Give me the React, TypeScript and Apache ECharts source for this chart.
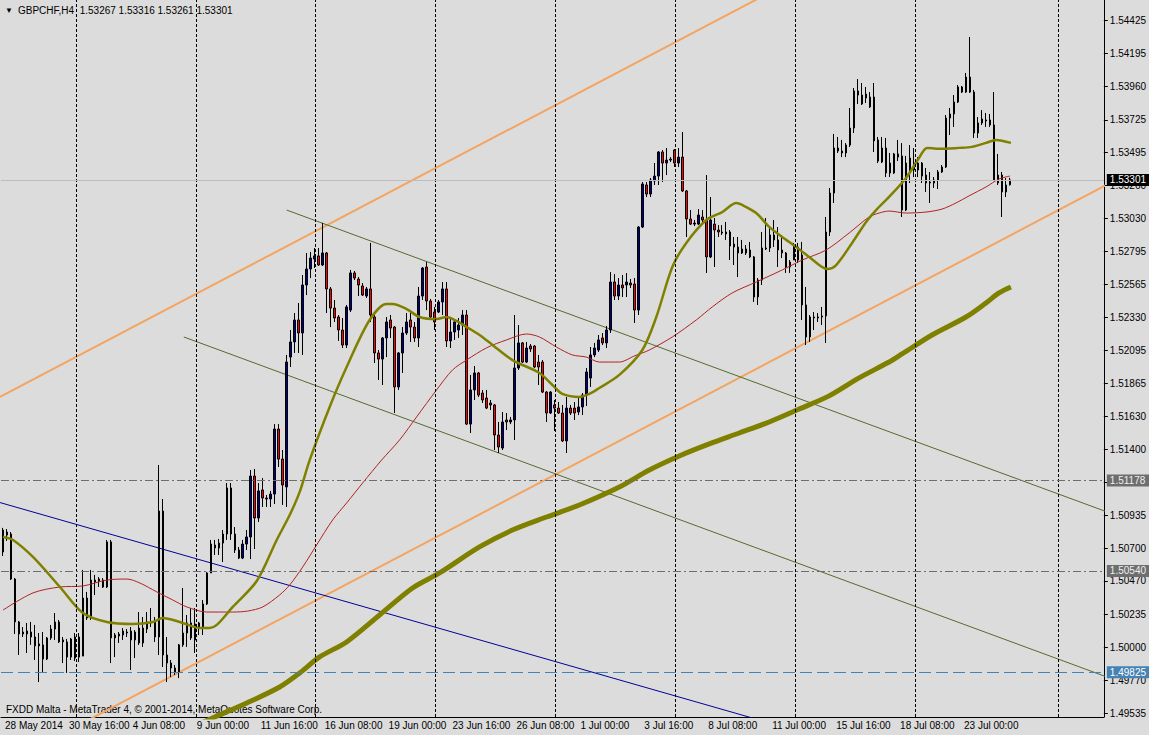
import React, { useEffect, useRef } from "react";
import * as echarts from "echarts";

const FONT = '"Liberation Sans", Arial, sans-serif';
const SYMBOL = "GBPCHF,H4";
const MONTHS = ["Jan", "Feb", "Mar", "Apr", "May", "Jun", "Jul", "Aug", "Sep", "Oct", "Nov", "Dec"];
const SLOT_COUNT = 276;
const LABEL_EVERY = 16;
const LAST_LABEL_INDEX = 240;
const Y_MIN = 1.49509;
const Y_MAX = 1.54571;

function pad(n: number) {
  return n < 10 ? "0" + n : "" + n;
}
function buildSlots(n: number): string[] {
  const out: string[] = [];
  let t = Date.UTC(2014, 4, 28, 0, 0);
  while (out.length < n) {
    const d = new Date(t);
    const wd = d.getUTCDay();
    if (wd !== 0 && wd !== 6) {
      out.push(`${d.getUTCDate()} ${MONTHS[d.getUTCMonth()]} ${pad(d.getUTCHours())}:00`);
    }
    t += 4 * 3600 * 1000;
  }
  return out;
}
const categories = buildSlots(SLOT_COUNT);

// [open, high, low, close]
const candles: number[][] = [
  [1.50674, 1.50844, 1.50646, 1.50829], [1.50815, 1.50836, 1.50752, 1.50794], [1.50801, 1.50815, 1.50476, 1.50483],
  [1.50483, 1.50490, 1.50095, 1.50180], [1.50180, 1.50187, 1.49947, 1.50095], [1.50095, 1.50144, 1.50074, 1.50109],
  [1.50095, 1.50173, 1.49961, 1.50116], [1.50109, 1.50180, 1.50018, 1.50074], [1.50074, 1.50159, 1.49911, 1.50011],
  [1.50011, 1.50102, 1.49756, 1.50025], [1.50018, 1.50109, 1.49820, 1.49918], [1.49918, 1.50074, 1.49911, 1.50067],
  [1.50067, 1.50159, 1.50053, 1.50130], [1.50130, 1.50243, 1.50053, 1.50180], [1.50180, 1.50194, 1.50032, 1.50039],
  [1.50039, 1.50074, 1.49890, 1.50053], [1.50039, 1.50060, 1.49820, 1.49932], [1.49932, 1.50067, 1.49911, 1.50060],
  [1.50074, 1.50102, 1.49904, 1.49925], [1.49932, 1.50102, 1.49897, 1.50074], [1.49939, 1.50547, 1.49939, 1.50349],
  [1.50349, 1.50392, 1.50194, 1.50208], [1.50208, 1.50547, 1.50194, 1.50476], [1.50476, 1.50512, 1.50370, 1.50462],
  [1.50469, 1.50497, 1.50427, 1.50483], [1.50476, 1.50490, 1.50420, 1.50427], [1.50427, 1.50759, 1.50420, 1.50745],
  [1.50745, 1.50759, 1.49890, 1.50067], [1.50088, 1.50102, 1.49932, 1.50067], [1.50081, 1.50109, 1.50032, 1.50095],
  [1.50088, 1.50137, 1.50053, 1.50116], [1.50109, 1.50130, 1.50074, 1.50102], [1.50116, 1.50144, 1.49841, 1.50053],
  [1.50109, 1.50123, 1.49925, 1.50053], [1.50032, 1.50250, 1.50018, 1.50137], [1.50032, 1.50215, 1.50004, 1.50137],
  [1.50130, 1.50250, 1.50102, 1.50180], [1.50180, 1.50278, 1.50144, 1.50173], [1.50180, 1.50215, 1.50039, 1.50074],
  [1.50074, 1.51288, 1.49947, 1.50963], [1.50963, 1.51048, 1.49862, 1.49947], [1.49947, 1.50074, 1.49756, 1.49890],
  [1.49890, 1.49911, 1.49791, 1.49855], [1.49855, 1.49876, 1.49806, 1.49827], [1.49827, 1.50025, 1.49784, 1.50018],
  [1.50018, 1.50420, 1.50004, 1.50102], [1.50102, 1.50229, 1.50004, 1.50173], [1.50173, 1.50278, 1.50053, 1.50067],
  [1.50053, 1.50278, 1.49961, 1.50166], [1.50144, 1.50180, 1.50088, 1.50173], [1.50144, 1.50335, 1.50088, 1.50307],
  [1.50307, 1.50533, 1.50300, 1.50526], [1.50526, 1.50759, 1.50526, 1.50730], [1.50723, 1.50759, 1.50653, 1.50702],
  [1.50702, 1.50766, 1.50653, 1.50737], [1.50737, 1.50829, 1.50603, 1.50801], [1.50801, 1.51161, 1.50759, 1.51126],
  [1.51126, 1.51161, 1.50759, 1.50801], [1.50801, 1.50850, 1.50667, 1.50688], [1.50688, 1.50709, 1.50624, 1.50631],
  [1.50631, 1.50759, 1.50624, 1.50730], [1.50730, 1.50829, 1.50688, 1.50780], [1.50780, 1.51253, 1.50624, 1.51210],
  [1.51210, 1.51260, 1.50695, 1.50914], [1.50914, 1.51161, 1.50886, 1.51105], [1.51112, 1.51196, 1.50992, 1.51055],
  [1.51048, 1.51076, 1.50992, 1.51055], [1.51048, 1.51105, 1.50992, 1.51083], [1.51083, 1.51577, 1.51013, 1.51542],
  [1.51542, 1.51577, 1.51274, 1.51330], [1.51330, 1.51394, 1.51006, 1.51147], [1.51133, 1.52065, 1.50992, 1.52015],
  [1.52050, 1.52241, 1.51980, 1.52157], [1.52157, 1.52361, 1.52079, 1.52312], [1.52312, 1.52432, 1.52079, 1.52220],
  [1.52220, 1.52629, 1.52065, 1.52559], [1.52559, 1.52785, 1.52488, 1.52672], [1.52672, 1.52792, 1.52608, 1.52749],
  [1.52742, 1.52820, 1.52679, 1.52764], [1.52764, 1.52820, 1.52693, 1.52700], [1.52700, 1.52997, 1.52693, 1.52785],
  [1.52785, 1.52792, 1.52361, 1.52531], [1.52531, 1.52545, 1.52262, 1.52396], [1.52396, 1.52453, 1.52298, 1.52326],
  [1.52333, 1.52347, 1.52164, 1.52241], [1.52241, 1.52326, 1.52114, 1.52135], [1.52135, 1.52418, 1.52114, 1.52404],
  [1.52382, 1.52665, 1.52368, 1.52644], [1.52644, 1.52658, 1.52594, 1.52608], [1.52601, 1.52615, 1.52481, 1.52559],
  [1.52552, 1.52573, 1.52481, 1.52488], [1.52481, 1.52545, 1.52467, 1.52531], [1.52531, 1.52856, 1.52298, 1.52347],
  [1.52333, 1.52347, 1.52008, 1.52079], [1.52079, 1.52100, 1.51888, 1.52036], [1.52036, 1.52192, 1.51853, 1.52185],
  [1.52185, 1.52333, 1.52050, 1.52298], [1.52312, 1.52347, 1.52185, 1.52255], [1.52262, 1.52269, 1.51655, 1.51839],
  [1.51839, 1.52086, 1.51818, 1.52079], [1.52079, 1.52262, 1.51938, 1.52220], [1.52220, 1.52361, 1.52206, 1.52298],
  [1.52312, 1.52361, 1.52157, 1.52262], [1.52262, 1.52298, 1.52157, 1.52185], [1.52185, 1.52545, 1.52121, 1.52481],
  [1.52481, 1.52686, 1.52453, 1.52679], [1.52686, 1.52721, 1.52382, 1.52446], [1.52446, 1.52460, 1.52312, 1.52333],
  [1.52368, 1.52404, 1.52241, 1.52298], [1.52368, 1.52453, 1.52361, 1.52439], [1.52439, 1.52580, 1.52347, 1.52531],
  [1.52531, 1.52580, 1.52121, 1.52164], [1.52164, 1.52333, 1.52114, 1.52227], [1.52227, 1.52312, 1.52171, 1.52298],
  [1.52241, 1.52326, 1.52185, 1.52276], [1.52276, 1.52382, 1.52206, 1.52347], [1.52347, 1.52382, 1.51570, 1.51577],
  [1.51577, 1.51924, 1.51514, 1.51818], [1.51818, 1.51987, 1.51747, 1.51938], [1.51938, 1.51945, 1.51768, 1.51782],
  [1.51796, 1.51818, 1.51726, 1.51747], [1.51761, 1.51818, 1.51683, 1.51690], [1.51726, 1.51747, 1.51676, 1.51712],
  [1.51712, 1.51719, 1.51394, 1.51500], [1.51500, 1.51592, 1.51373, 1.51415], [1.51408, 1.51662, 1.51394, 1.51592],
  [1.51606, 1.51655, 1.51535, 1.51592], [1.51592, 1.51627, 1.51577, 1.51606], [1.51606, 1.52347, 1.51465, 1.51973],
  [1.51973, 1.52276, 1.51959, 1.52150], [1.52150, 1.52157, 1.52008, 1.52015], [1.52015, 1.52157, 1.52008, 1.52114],
  [1.52128, 1.52142, 1.52086, 1.52107], [1.52128, 1.52135, 1.51973, 1.51980], [1.52015, 1.52065, 1.51853, 1.51980],
  [1.52015, 1.52029, 1.51796, 1.51803], [1.51803, 1.51810, 1.51592, 1.51655], [1.51655, 1.51810, 1.51648, 1.51803],
  [1.51712, 1.51747, 1.51528, 1.51690], [1.51690, 1.51733, 1.51648, 1.51655], [1.51655, 1.51712, 1.51450, 1.51458],
  [1.51458, 1.51768, 1.51373, 1.51690], [1.51690, 1.51712, 1.51641, 1.51655], [1.51690, 1.51733, 1.51606, 1.51655],
  [1.51662, 1.51761, 1.51641, 1.51698], [1.51698, 1.51796, 1.51641, 1.51782], [1.51782, 1.51973, 1.51705, 1.51945],
  [1.51902, 1.52121, 1.51839, 1.52065], [1.52065, 1.52150, 1.52050, 1.52114], [1.52100, 1.52206, 1.52086, 1.52171],
  [1.52185, 1.52220, 1.52135, 1.52150], [1.52150, 1.52269, 1.52114, 1.52241], [1.52241, 1.52650, 1.52220, 1.52580],
  [1.52580, 1.52636, 1.52453, 1.52481], [1.52481, 1.52608, 1.52453, 1.52559], [1.52559, 1.52629, 1.52474, 1.52538],
  [1.52559, 1.52643, 1.52474, 1.52580], [1.52573, 1.52601, 1.52538, 1.52559], [1.52566, 1.52608, 1.52291, 1.52382],
  [1.52382, 1.52975, 1.52347, 1.52968], [1.52968, 1.53286, 1.52961, 1.53272], [1.53265, 1.53286, 1.53180, 1.53201],
  [1.53201, 1.53314, 1.53180, 1.53300], [1.53293, 1.53420, 1.53265, 1.53328], [1.53328, 1.53505, 1.53265, 1.53498],
  [1.53498, 1.53512, 1.53286, 1.53420], [1.53420, 1.53526, 1.53335, 1.53441], [1.53448, 1.53462, 1.53427, 1.53441],
  [1.53512, 1.53519, 1.53392, 1.53420], [1.53420, 1.53526, 1.53392, 1.53462], [1.53462, 1.53639, 1.53216, 1.53223],
  [1.53223, 1.53230, 1.52898, 1.53025], [1.53025, 1.53088, 1.52982, 1.52989], [1.52989, 1.53018, 1.52975, 1.52996],
  [1.52989, 1.53095, 1.52982, 1.53053], [1.53039, 1.53088, 1.52996, 1.53018], [1.53018, 1.53335, 1.52644, 1.52757],
  [1.52757, 1.53180, 1.52749, 1.53018], [1.52989, 1.53032, 1.52686, 1.52947], [1.52947, 1.52982, 1.52898, 1.52933],
  [1.52933, 1.52982, 1.52912, 1.52926], [1.52919, 1.53004, 1.52877, 1.52933], [1.52933, 1.52947, 1.52735, 1.52834],
  [1.52848, 1.52898, 1.52700, 1.52827], [1.52827, 1.52898, 1.52615, 1.52785], [1.52785, 1.52877, 1.52778, 1.52813],
  [1.52813, 1.52841, 1.52771, 1.52785], [1.52806, 1.52863, 1.52749, 1.52757], [1.52757, 1.52764, 1.52439, 1.52474],
  [1.52474, 1.52608, 1.52418, 1.52594], [1.52594, 1.52933, 1.52559, 1.52820], [1.52813, 1.53032, 1.52806, 1.52820],
  [1.52820, 1.52968, 1.52792, 1.52912], [1.52912, 1.53018, 1.52827, 1.52877], [1.52877, 1.52968, 1.52686, 1.52806],
  [1.52806, 1.52912, 1.52749, 1.52785], [1.52785, 1.52792, 1.52644, 1.52686], [1.52686, 1.52735, 1.52644, 1.52721],
  [1.52735, 1.52856, 1.52735, 1.52827], [1.52827, 1.52856, 1.52714, 1.52735], [1.52771, 1.52863, 1.52312, 1.52418],
  [1.52418, 1.52545, 1.52135, 1.52192], [1.52192, 1.52347, 1.52157, 1.52333], [1.52333, 1.52368, 1.52241, 1.52326],
  [1.52333, 1.52361, 1.52298, 1.52326], [1.52333, 1.52404, 1.52276, 1.52340], [1.52340, 1.53039, 1.52150, 1.52933],
  [1.52933, 1.53244, 1.52905, 1.53208], [1.53208, 1.53625, 1.53138, 1.53526], [1.53526, 1.53604, 1.53491, 1.53505],
  [1.53491, 1.53583, 1.53462, 1.53505], [1.53491, 1.53561, 1.53462, 1.53547], [1.53547, 1.53809, 1.53533, 1.53667],
  [1.53667, 1.53950, 1.53632, 1.53929], [1.53929, 1.54013, 1.53837, 1.53900], [1.53900, 1.53985, 1.53830, 1.53837],
  [1.53879, 1.53957, 1.53844, 1.53907], [1.53886, 1.53921, 1.53809, 1.53816], [1.53886, 1.53985, 1.53498, 1.53576],
  [1.53583, 1.53604, 1.53420, 1.53434], [1.53526, 1.53604, 1.53420, 1.53427], [1.53526, 1.53597, 1.53321, 1.53350],
  [1.53420, 1.53491, 1.53321, 1.53350], [1.53350, 1.53491, 1.53343, 1.53484], [1.53484, 1.53583, 1.53434, 1.53462],
  [1.53470, 1.53561, 1.53039, 1.53088], [1.53088, 1.53470, 1.53081, 1.53420], [1.53371, 1.53547, 1.53279, 1.53455],
  [1.53420, 1.53526, 1.53321, 1.53371], [1.53371, 1.53462, 1.53321, 1.53420], [1.53420, 1.53427, 1.53279, 1.53328],
  [1.53335, 1.53385, 1.53216, 1.53279], [1.53286, 1.53357, 1.53138, 1.53279], [1.53279, 1.53321, 1.53244, 1.53300],
  [1.53300, 1.53371, 1.53237, 1.53357], [1.53357, 1.53406, 1.53350, 1.53392], [1.53392, 1.53759, 1.53385, 1.53738],
  [1.53738, 1.53809, 1.53618, 1.53766], [1.53766, 1.53900, 1.53675, 1.53851], [1.53851, 1.53971, 1.53844, 1.53957],
  [1.53957, 1.53964, 1.53915, 1.53921], [1.53921, 1.54056, 1.53915, 1.54027], [1.54027, 1.54310, 1.53915, 1.53921],
  [1.53921, 1.53936, 1.53597, 1.53632], [1.53632, 1.53745, 1.53597, 1.53703], [1.53703, 1.53794, 1.53689, 1.53731],
  [1.53717, 1.53773, 1.53675, 1.53724], [1.53724, 1.53766, 1.53675, 1.53689], [1.53689, 1.53921, 1.53293, 1.53300],
  [1.53279, 1.53484, 1.53265, 1.53335], [1.53335, 1.53357, 1.53039, 1.53216], [1.53216, 1.53314, 1.53180, 1.53265],
  [1.53267, 1.53316, 1.53261, 1.53301],
];

const yTicks = [
  1.54425, 1.54195, 1.5396, 1.53725, 1.53495, 1.5326, 1.5303, 1.52795, 1.52565, 1.5233, 1.52095,
  1.51865, 1.5163, 1.514, 1.51165, 1.50935, 1.507, 1.5047, 1.50235, 1.5, 1.4977, 1.49535,
];

// moving averages: [bar index, price]
const maSlow = [
  [45, 1.4941], [53, 1.49509], [61, 1.49608], [69.25, 1.49721], [74.25, 1.4982], [79.25, 1.49933], [86, 1.50039],
  [94.25, 1.50229], [102.5, 1.5042], [109.25, 1.50526], [119.25, 1.5071], [127.5, 1.50829], [136, 1.50921],
  [144.25, 1.51006], [154.25, 1.51133], [161.75, 1.51253], [169.25, 1.51352], [176.75, 1.51437], [184.25, 1.51514],
  [191.75, 1.51592], [199.25, 1.51683], [206.75, 1.51776], [214.25, 1.51903], [221.75, 1.52015], [225, 1.52072],
  [232.5, 1.52206], [241, 1.52333], [246, 1.52432], [249.25, 1.52503], [252.25, 1.52545],
];
const maFast = [
  [0, 1.5078], [2.5, 1.50759], [7.5, 1.50639], [14.25, 1.50427], [20, 1.50243], [26, 1.5018], [32.5, 1.50166],
  [37.5, 1.5018], [40, 1.50208], [44.25, 1.5018], [49.25, 1.50138], [51.75, 1.50138], [53.5, 1.50159], [57.5, 1.50286],
  [63.5, 1.50469], [68.5, 1.50759], [71.75, 1.50935], [74.25, 1.51098], [76.75, 1.51323], [81.75, 1.51698], [86, 1.5198],
  [91.75, 1.52312], [96, 1.52425], [97.5, 1.52425], [101, 1.52389], [104.25, 1.52333], [108.5, 1.52318], [111, 1.52333],
  [113.5, 1.52305], [116, 1.52263], [119.25, 1.52206], [122.5, 1.52136], [127.5, 1.52029], [134.25, 1.51938],
  [137.5, 1.51853], [140, 1.5179], [144.25, 1.51769], [146.75, 1.5179], [149.25, 1.51832], [154.25, 1.51924],
  [160, 1.521], [163.5, 1.52333], [167.5, 1.52686], [171, 1.52856], [176, 1.53018], [180, 1.53074], [183.5, 1.53138],
  [185, 1.53124], [188.5, 1.53067], [191.75, 1.52969], [195, 1.52898], [198.5, 1.52828], [201.75, 1.52757], [205, 1.52686],
  [206.25, 1.52672], [208.5, 1.527], [212.5, 1.52856], [216, 1.53004], [218.5, 1.53088], [221.75, 1.53181], [226, 1.53315],
  [229.25, 1.53456], [231.25, 1.53527], [234.25, 1.5352], [239.25, 1.53527], [242.5, 1.53534], [246, 1.53562],
  [248.5, 1.53583], [252.25, 1.53562],
];
const maMid = [
  [0, 1.50264], [7.5, 1.50385], [14.25, 1.50427], [20, 1.50434], [26, 1.50476], [31, 1.50483], [34.25, 1.50455],
  [38.5, 1.50392], [42.5, 1.50335], [46, 1.50286], [51, 1.5025], [57.5, 1.5025], [61.25, 1.50257], [65, 1.50286],
  [69.25, 1.50371], [71.75, 1.50441], [75, 1.50568], [78.5, 1.50724], [82.5, 1.509], [86, 1.5102], [90, 1.51161],
  [94.75, 1.51323], [99.25, 1.51465], [103.5, 1.51627], [108.5, 1.51818], [112.5, 1.51959], [116, 1.52029],
  [121, 1.52115], [126, 1.52171], [131, 1.52213], [134.25, 1.52192], [138.5, 1.52121], [142.5, 1.52065], [146, 1.5205],
  [149.25, 1.52015], [154.25, 1.52015], [158, 1.52058], [161.75, 1.521], [167.5, 1.52192], [173.5, 1.52312],
  [177.5, 1.52404], [182.5, 1.52503], [188.5, 1.5258], [195, 1.52665], [200, 1.52735], [206, 1.52806], [211.75, 1.52926],
  [216.75, 1.53039], [219.25, 1.53067], [221.75, 1.53081], [226, 1.53067], [231, 1.53074], [235, 1.53095],
  [238.5, 1.53138], [241.75, 1.53188], [246, 1.53251], [249.25, 1.53307], [252, 1.53328],
];

// drawn trend lines: [bar index, price]
const orangeUpper = [[-1, 1.51765], [190, 1.54596]];
const orangeLower = [[22, 1.49497], [276, 1.53263]];
const oliveUpper = [[71, 1.53088], [276, 1.5096]];
const oliveLower = [[45.25, 1.52192], [276, 1.49794]];
const blueLine = [[-1, 1.51025], [190, 1.49482]];

const weekSeparators = [18.25, 48.25, 78.25, 108.25, 138.25, 168.25, 198.25, 228.25, 264];
const lastPrice = 1.53301;
const levelHigh = 1.51178;
const levelMid = 1.5054;
const levelLow = 1.49825;

const showSlot = (i: number) => i % LABEL_EVERY === 0 && i <= LAST_LABEL_INDEX;

function boxLabel(value: number, bg: string, fg: string) {
  return {
    show: true,
    position: "end",
    distance: 3,
    formatter: () => value.toFixed(5),
    backgroundColor: bg,
    color: fg,
    padding: [1, 4, 0, 3],
    fontSize: 10,
    lineHeight: 11,
    fontFamily: FONT,
  };
}

function trend(data: number[][], color: string, width: number, z: number) {
  return {
    type: "line",
    xAxisIndex: 1,
    yAxisIndex: 0,
    data,
    symbol: "none",
    clip: true,
    silent: true,
    z,
    lineStyle: { color, width },
  };
}

const last = candles[candles.length - 1];

const option: any = {
  animation: false,
  backgroundColor: "#DCDCDC",
  textStyle: { fontFamily: FONT },
  grid: { left: 1, right: 44, top: 0, bottom: 18, containLabel: false },
  xAxis: [
    {
      type: "category",
      data: categories,
      boundaryGap: true,
      axisLine: { onZero: false, lineStyle: { color: "#000", width: 1 } },
      axisTick: { alignWithLabel: true, interval: (i: number) => showSlot(i), length: 4, lineStyle: { color: "#000" } },
      axisLabel: {
        interval: (i: number) => showSlot(i),
        formatter: (v: string, i: number) => (i === 0 ? "28 May 2014" : v),
        align: "left",
        margin: 3,
        padding: [0, 0, 0, 2],
        fontSize: 10,
        color: "#000",
        fontFamily: FONT,
      },
      splitLine: { show: false },
    },
    { type: "value", min: -0.5, max: SLOT_COUNT - 0.5, show: false },
  ],
  yAxis: {
    type: "value",
    position: "right",
    min: Y_MIN,
    max: Y_MAX,
    splitLine: { show: false },
    axisLine: { show: true, onZero: false, lineStyle: { color: "#000" } },
    axisTick: { show: true, customValues: yTicks, length: 4, lineStyle: { color: "#000" } },
    axisLabel: {
      customValues: yTicks,
      formatter: (v: number) => v.toFixed(5),
      fontSize: 10,
      color: "#000",
      margin: 6,
      fontFamily: FONT,
    },
  },
  graphic: [
    { type: "text", left: 5, top: 6, style: { text: "\u25BC", fontSize: 8, fill: "#000", fontFamily: FONT } },
    {
      type: "text",
      left: 18,
      top: 5,
      style: {
        text: `${SYMBOL}  ${last.map((v) => v.toFixed(5)).join(" ")}`,
        fontSize: 10,
        fill: "#000",
        fontFamily: FONT,
      },
    },
    {
      type: "text",
      left: 6,
      top: 704,
      style: {
        text: "FXDD Malta - MetaTrader 4, \u00A9 2001-2014, MetaQuotes Software Corp.",
        fontSize: 10,
        fill: "#000",
        fontFamily: FONT,
      },
    },
  ],
  series: [
    {
      type: "line",
      xAxisIndex: 1,
      yAxisIndex: 0,
      data: [[-10, 1.52]],
      symbol: "none",
      silent: true,
      z: 1,
      lineStyle: { width: 0 },
      markLine: {
        silent: true,
        precision: 5,
        symbol: ["none", "none"],
        animation: false,
        data: [
          ...weekSeparators.map((x) => ({
            xAxis: x,
            lineStyle: { color: "#000", type: [3, 2], width: 1 },
            label: { show: false },
          })),
          { yAxis: lastPrice, lineStyle: { color: "#BDBDBD", type: "solid", width: 1 }, label: boxLabel(lastPrice, "#000", "#fff") },
          { yAxis: levelHigh, lineStyle: { color: "#6E6E6E", type: [8, 3, 2, 3], width: 1 }, label: boxLabel(levelHigh, "#6E6E6E", "#EEE") },
          { yAxis: levelMid, lineStyle: { color: "#6E6E6E", type: [8, 3, 2, 3], width: 1 }, label: boxLabel(levelMid, "#6E6E6E", "#EEE") },
          { yAxis: levelLow, lineStyle: { color: "#4682B4", type: [12, 5], width: 1 }, label: boxLabel(levelLow, "#4682B4", "#fff") },
        ],
      },
    },
    trend(orangeUpper, "#F4A460", 2, 2),
    trend(orangeLower, "#F4A460", 2, 2),
    trend(oliveUpper, "#556B2F", 1, 2),
    trend(oliveLower, "#556B2F", 1, 2),
    trend(blueLine, "#00009A", 1, 2),
    {
      type: "candlestick",
      xAxisIndex: 0,
      yAxisIndex: 0,
      z: 3,
      barWidth: 2,
      silent: true,
      data: candles.map(([o, h, l, c]) => [o, c, l, h]),
      itemStyle: { color: "#000080", color0: "#FF0000", borderColor: "#000", borderColor0: "#000", borderWidth: 1 },
    },
    { ...trend(maSlow, "#808000", 5, 4), smooth: 0.3 },
    { ...trend(maMid, "#B22222", 1, 4), smooth: 0.3 },
    { ...trend(maFast, "#808000", 2.5, 4), smooth: 0.3 },
  ],
};

export default function App() {
  const ref = useRef<HTMLDivElement>(null);
  useEffect(() => {
    const chart = echarts.init(ref.current!, undefined, { renderer: "svg" });
    chart.setOption(option);
    return () => chart.dispose();
  }, []);
  return (
    <div
      ref={ref}
      style={{ position: "absolute", left: 0, top: 0, width: 1149, height: 735, background: "#DCDCDC" }}
    />
  );
}
